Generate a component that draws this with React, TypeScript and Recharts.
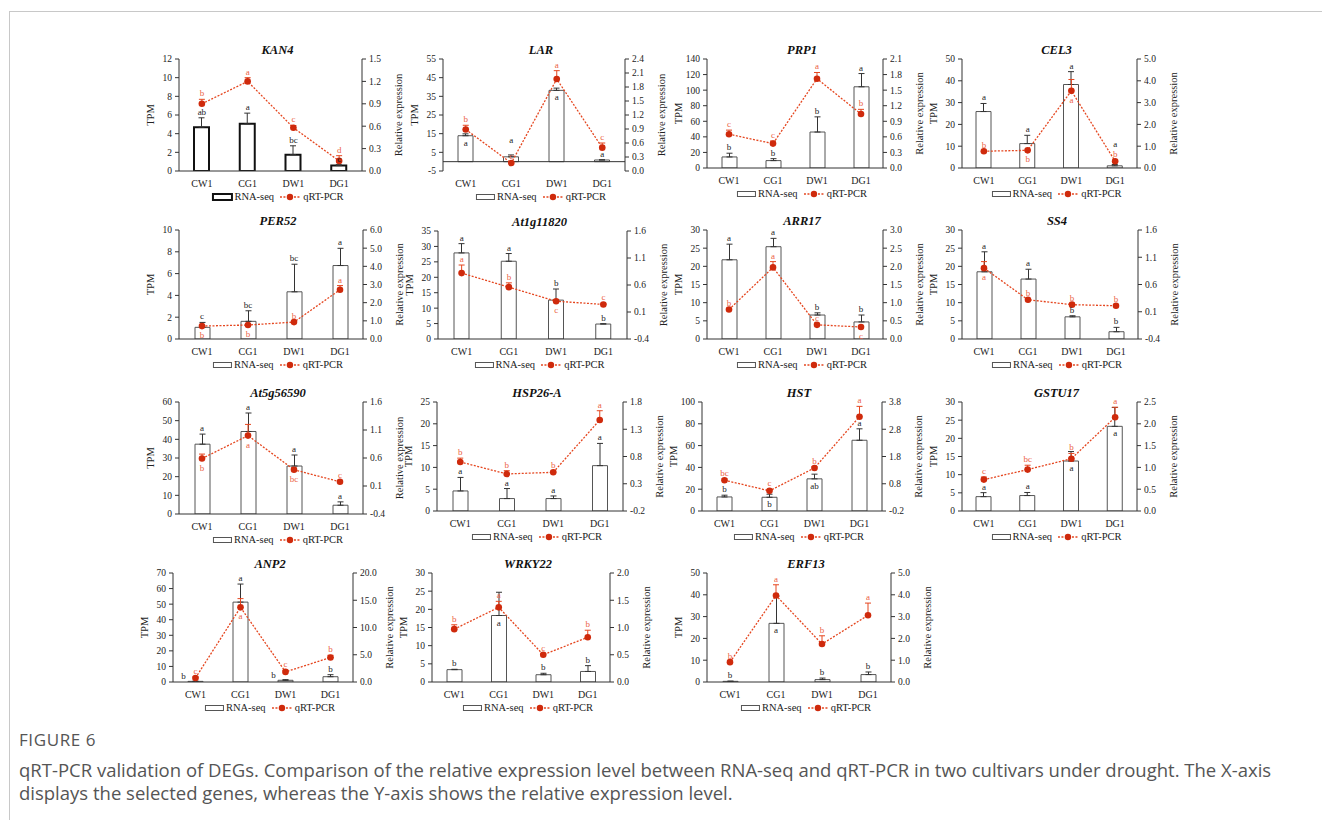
import React from "react";
import {
  ComposedChart,
  Bar,
  Line,
  XAxis,
  YAxis,
  ErrorBar,
  LabelList,
  ReferenceLine,
} from "recharts";

// ---- data ----
const stages = ["CW1", "CG1", "DW1", "DG1"];

const genes = [
  "KAN4", "LAR", "PRP1", "CEL3",
  "PER52", "At1g11820", "ARR17", "SS4",
  "At5g56590", "HSP26-A", "HST", "GSTU17",
  "ANP2", "WRKY22", "ERF13",
];

// RNA-seq (TPM, left axis)
const tpm = [
  [4.7, 5.05, 1.75, 0.58],
  [13.9, 2.6, 38.2, 0.9],
  [14.2, 9.5, 46.2, 104.3],
  [25.9, 11.2, 38.3, 1.0],
  [1.07, 1.62, 4.33, 6.74],
  [27.9, 25.2, 12.6, 4.85],
  [21.8, 25.4, 6.6, 4.7],
  [18.5, 16.5, 6.1, 2.0],
  [37.4, 44.2, 25.7, 4.7],
  [4.6, 2.85, 2.85, 10.4],
  [12.9, 12.6, 29.5, 64.9],
  [3.95, 4.25, 13.76, 23.3],
  [0.4, 51.3, 1.1, 3.4],
  [3.4, 18.3, 2.0, 2.9],
  [0.3, 26.9, 1.1, 3.4],
];
const tpmErr = [
  [1.0, 1.15, 0.95, 0.1],
  [1.0, 1.0, 1.2, 0.1],
  [4.8, 2.5, 19.5, 17.0],
  [3.7, 3.8, 5.9, 0.6],
  [0.45, 0.97, 2.53, 1.58],
  [3.0, 2.5, 3.6, 0.1],
  [4.3, 2.3, 0.6, 1.9],
  [5.5, 2.7, 0.3, 1.2],
  [5.4, 9.9, 5.9, 1.8],
  [3.1, 2.3, 0.6, 5.1],
  [1.6, 2.8, 4.3, 10.5],
  [1.1, 0.85, 2.6, 5.2],
  [0.05, 11.6, 0.4, 1.3],
  [0.1, 6.4, 0.4, 1.6],
  [0.1, 12.5, 0.7, 1.2],
];
const tpmSig = [
  ["ab", "a", "bc", "c"],
  ["a", "a", "a", "a"],
  ["b", "b", "b", "a"],
  ["a", "a", "a", "a"],
  ["c", "bc", "bc", "a"],
  ["a", "a", "b", "b"],
  ["a", "a", "b", "b"],
  ["a", "a", "b", "b"],
  ["a", "a", "a", "a"],
  ["a", "a", "a", "a"],
  ["b", "b", "ab", "a"],
  ["a", "a", "a", "a"],
  ["b", "a", "b", "b"],
  ["b", "a", "b", "b"],
  ["b", "a", "b", "b"],
];

// qRT-PCR (relative expression, right axis)
const rel = [
  [0.9, 1.2, 0.58, 0.135],
  [0.89, 0.17, 1.97, 0.5],
  [0.65, 0.47, 1.72, 1.04],
  [0.77, 0.81, 3.54, 0.31],
  [0.71, 0.77, 0.93, 2.71],
  [0.82, 0.56, 0.3, 0.24],
  [0.81, 1.97, 0.39, 0.33],
  [0.9, 0.32, 0.23, 0.21],
  [0.59, 1.0, 0.39, 0.175],
  [0.7, 0.48, 0.51, 1.47],
  [0.93, 0.54, 1.38, 3.26],
  [0.72, 0.95, 1.2, 2.15],
  [0.74, 13.7, 1.85, 4.5],
  [0.97, 1.37, 0.5, 0.82],
  [0.91, 3.97, 1.74, 3.06],
];
const relErr = [
  [0.06, 0.05, 0.03, 0.07],
  [0.09, 0.03, 0.18, 0.1],
  [0.08, 0.05, 0.12, 0.09],
  [0.01, 0.02, 0.52, 0.05],
  [0.02, 0.02, 0.03, 0.23],
  [0.15, 0.08, 0.03, 0.02],
  [0.01, 0.16, 0.02, 0.02],
  [0.12, 0.02, 0.02, 0.02],
  [0.08, 0.2, 0.03, 0.02],
  [0.07, 0.06, 0.02, 0.17],
  [0.05, 0.05, 0.05, 0.38],
  [0.06, 0.1, 0.12, 0.23],
  [0.2, 1.6, 0.3, 0.4],
  [0.08, 0.11, 0.02, 0.13],
  [0.02, 0.49, 0.38, 0.56],
];
const relSig = [
  ["b", "a", "c", "d"],
  ["b", "c", "a", "c"],
  ["c", "c", "a", "b"],
  ["b", "b", "a", "b"],
  ["b", "b", "b", "a"],
  ["a", "b", "c", "c"],
  ["b", "a", "c", "c"],
  ["a", "b", "b", "b"],
  ["b", "a", "bc", "c"],
  ["b", "b", "b", "a"],
  ["bc", "c", "b", "a"],
  ["c", "bc", "b", "a"],
  ["c", "a", "c", "b"],
  ["b", "a", "c", "b"],
  ["b", "a", "b", "a"],
];

const tpmTicks = [
  [0, 2, 4, 6, 8, 10, 12],
  [-5, 5, 15, 25, 35, 45, 55],
  [0, 20, 40, 60, 80, 100, 120, 140],
  [0, 10, 20, 30, 40, 50],
  [0, 2, 4, 6, 8, 10],
  [0, 5, 10, 15, 20, 25, 30, 35],
  [0, 5, 10, 15, 20, 25, 30],
  [0, 5, 10, 15, 20, 25, 30],
  [0, 10, 20, 30, 40, 50, 60],
  [0, 5, 10, 15, 20, 25],
  [0, 20, 40, 60, 80, 100],
  [0, 5, 10, 15, 20, 25, 30],
  [0, 10, 20, 30, 40, 50, 60, 70],
  [0, 5, 10, 15, 20, 25, 30],
  [0, 10, 20, 30, 40, 50],
];
const relTicks = [
  [0, 0.3, 0.6, 0.9, 1.2, 1.5],
  [0, 0.3, 0.6, 0.9, 1.2, 1.5, 1.8, 2.1, 2.4],
  [0, 0.3, 0.6, 0.9, 1.2, 1.5, 1.8, 2.1],
  [0, 1, 2, 3, 4, 5],
  [0, 1, 2, 3, 4, 5, 6],
  [-0.4, 0.1, 0.6, 1.1, 1.6],
  [0, 0.5, 1, 1.5, 2, 2.5, 3],
  [-0.4, 0.1, 0.6, 1.1, 1.6],
  [-0.4, 0.1, 0.6, 1.1, 1.6],
  [-0.2, 0.3, 0.8, 1.3, 1.8],
  [-0.2, 0.8, 1.8, 2.8, 3.8],
  [0, 0.5, 1, 1.5, 2, 2.5],
  [0, 5, 10, 15, 20],
  [0, 0.5, 1, 1.5, 2],
  [0, 1, 2, 3, 4, 5],
];

// ---- layout: plot box [left, top, width, height] per panel ----
const panelBox = [
  [179, 59, 183, 112],
  [443, 59, 182, 112],
  [707, 59, 176, 109],
  [962, 59, 175, 109],
  [179, 230, 184, 109],
  [438, 231, 189, 108],
  [707, 230, 176, 109],
  [962, 230, 176, 109],
  [179, 402, 184, 112],
  [437, 402, 186, 109],
  [702, 402, 180, 109],
  [962, 402, 175, 109],
  [173, 573, 180, 109],
  [432, 573, 178, 109],
  [707, 573, 184, 109],
];
// letter placement: u = above error bar, h / H = higher (clear of a red letter),
// d = below the value, l = left of bar
const tpmPlace = [
  "uuuu", "dhdu", "uuuu", "uuuH",
  "uuuu", "uuuu", "uuuu", "uuuu",
  "uuuu", "uuuu", "uddu", "uudd",
  "lulu", "uduu", "uduu",
];
const relPlace = [
  "uuuu", "uuuu", "uuuu", "uddu",
  "dduu", "uudu", "uuud", "duuu",
  "dddu", "uuuu", "uuuu", "uuuu",
  "uduu", "uuuu", "uuuu",
];
const boldBars = ["KAN4"];

const serif = '"Liberation Serif", "Times New Roman", serif';
const sans = '"Open Sans", sans-serif';
const INK = "#222";
const RED = "#e5461f";
const RED_TEXT = "#ec6244";
const DOT = "#cf2a0c";

const LEFT_W = 58;
const RIGHT_W = 72;
const TOP_M = 10;
const X_H = 22;

const fmtRel = (v: number) => v.toFixed(1);

const sigContent = (color: string, bar: boolean) => (props: any) => {
  const { x, y, value } = props;
  if (x == null || y == null || value == null) return null;
  const [place, letter] = String(value).split("|");
  let tx = x;
  let ty = y - 3;
  if (place === "h") ty = y - 12;
  if (place === "H") ty = y - 18;
  if (place === "d") ty = y + (bar ? 10 : 12);
  if (place === "l") {
    tx = x - 12;
    ty = y - 2;
  }
  return (
    <text x={tx} y={ty} textAnchor="middle" fontSize={9} fill={color} fontFamily={serif}>
      {letter}
    </text>
  );
};

function SeriesKey({ cx, cy, bold }: { cx: number; cy: number; bold: boolean }) {
  return (
    <div
      style={{
        position: "absolute",
        left: cx,
        top: cy,
        transform: "translate(-50%, -50%)",
        display: "flex",
        alignItems: "center",
        fontFamily: serif,
        fontSize: 10.5,
        color: INK,
        whiteSpace: "nowrap",
        lineHeight: "12px",
      }}
    >
      <span
        style={{
          display: "inline-block",
          width: 17,
          height: 4,
          border: bold ? "2px solid #111" : "1px solid #555",
          marginRight: 2,
        }}
      />
      <span>RNA-seq</span>
      <svg width={20} height={8} style={{ marginLeft: 6, marginRight: 3 }}>
        <line x1={0} y1={4} x2={20} y2={4} stroke={RED} strokeWidth={1.3} strokeDasharray="2 1.5" />
        <circle cx={10} cy={4} r={3.2} fill={DOT} />
      </svg>
      <span>qRT-PCR</span>
    </div>
  );
}

function GenePanel({ i }: { i: number }) {
  const [left, top, w, h] = panelBox[i];
  const bold = boldBars.includes(genes[i]);
  const yT = tpmTicks[i];
  const yR = relTicks[i];
  const negBase = yT[0] < 0;

  const data = stages.map((stage, k) => ({
    stage,
    tpm: tpm[i][k],
    tpmErr: [0, tpmErr[i][k]],
    rel: rel[i][k],
    relErr: [0, relErr[i][k]],
    tpmMark: tpmPlace[i][k] === "d" ? tpm[i][k] : tpm[i][k] + tpmErr[i][k],
    tpmTag: tpmPlace[i][k] + "|" + tpmSig[i][k],
    relMark: relPlace[i][k] === "d" ? rel[i][k] : rel[i][k] + relErr[i][k],
    relTag: relPlace[i][k] + "|" + relSig[i][k],
  }));

  const cx = left + w / 2 + 7;
  const tick = { fontSize: 9.5, fill: INK, fontFamily: serif };

  return (
    <>
      <div
        style={{
          position: "absolute",
          left: cx,
          top: top - 9,
          transform: "translate(-50%, -50%)",
          fontFamily: serif,
          fontWeight: "bold",
          fontStyle: "italic",
          fontSize: 12.5,
          color: "#111",
          whiteSpace: "nowrap",
        }}
      >
        {genes[i]}
      </div>
      <div style={{ position: "absolute", left: left - LEFT_W, top: top - TOP_M }}>
        <ComposedChart
          width={w + LEFT_W + RIGHT_W}
          height={h + TOP_M + X_H}
          data={data}
          margin={{ top: TOP_M, right: 0, bottom: 0, left: 0 }}
          style={{ fontFamily: serif }}
        >
          <XAxis
            dataKey="stage"
            tickLine={false}
            axisLine={negBase ? false : { stroke: "#333" }}
            tick={{ ...tick, fontSize: 10 }}
            tickMargin={3}
            height={X_H}
            interval={0}
          />
          <YAxis
            yAxisId="l"
            width={LEFT_W}
            domain={[yT[0], yT[yT.length - 1]]}
            ticks={yT}
            interval={0}
            allowDataOverflow
            tick={tick}
            tickSize={4}
            tickMargin={3}
            stroke="#333"
            label={{ value: "TPM", angle: -90, position: "center", fontSize: 10.5, fill: INK, fontFamily: serif }}
          />
          <YAxis
            yAxisId="r"
            orientation="right"
            width={RIGHT_W}
            domain={[yR[0], yR[yR.length - 1]]}
            ticks={yR}
            interval={0}
            allowDataOverflow
            tick={tick}
            tickFormatter={fmtRel}
            tickSize={4}
            tickMargin={3}
            stroke="#333"
            label={{
              value: "Relative expression",
              angle: -90,
              position: "center",
              fontSize: 10.5,
              fill: INK,
              fontFamily: serif,
            }}
          />
          <Bar
            yAxisId="l"
            dataKey="tpm"
            barSize={15}
            fill="#fff"
            stroke={bold ? "#111" : "#555"}
            strokeWidth={bold ? 2 : 1}
            isAnimationActive={false}
          >
            <ErrorBar dataKey="tpmErr" direction="y" width={3} stroke="#333" strokeWidth={1} />
          </Bar>
          {negBase && <ReferenceLine yAxisId="l" y={0} stroke="#333" strokeWidth={1} />}
          <Line
            yAxisId="l"
            dataKey="tpmMark"
            stroke="none"
            dot={false}
            activeDot={false}
            legendType="none"
            isAnimationActive={false}
          >
            <LabelList dataKey="tpmTag" content={sigContent(INK, true)} />
          </Line>
          <Line
            yAxisId="r"
            dataKey="rel"
            stroke={RED}
            strokeWidth={1.3}
            strokeDasharray="2 1.5"
            dot={{ r: 3.3, fill: DOT, stroke: "none" }}
            activeDot={false}
            isAnimationActive={false}
          >
            <ErrorBar dataKey="relErr" direction="y" width={3} stroke={RED} strokeWidth={1} />
          </Line>
          <Line
            yAxisId="r"
            dataKey="relMark"
            stroke="none"
            dot={false}
            activeDot={false}
            legendType="none"
            isAnimationActive={false}
          >
            <LabelList dataKey="relTag" content={sigContent(RED_TEXT, false)} />
          </Line>
        </ComposedChart>
      </div>
      <SeriesKey cx={cx} cy={top + h + 25.5} bold={bold} />
    </>
  );
}

export default function App() {
  return (
    <div
      style={{
        position: "absolute",
        left: 0,
        top: 0,
        width: 1322,
        height: 820,
        background: "#fff",
        overflow: "hidden",
      }}
    >
      <div
        style={{
          position: "absolute",
          left: 9,
          top: 11,
          width: 1330,
          height: 820,
          borderTop: "1px solid #c8c8c8",
          borderLeft: "1px solid #c8c8c8",
        }}
      />
      {genes.map((g, i) => (
        <GenePanel key={g} i={i} />
      ))}
      <div
        style={{
          position: "absolute",
          left: 19,
          top: 728,
          fontFamily: sans,
          fontSize: 17,
          lineHeight: "24px",
          color: "#555",
          letterSpacing: 0.6,
        }}
      >
        FIGURE 6
      </div>
      <div
        style={{
          position: "absolute",
          left: 19,
          top: 758,
          fontFamily: sans,
          fontSize: 18.5,
          lineHeight: "23px",
          color: "#555",
          whiteSpace: "nowrap",
        }}
      >
        <div>
          qRT-PCR validation of DEGs. Comparison of the relative expression level between RNA-seq and qRT-PCR in two
          cultivars under drought. The X-axis
        </div>
        <div>displays the selected genes, whereas the Y-axis shows the relative expression level.</div>
      </div>
    </div>
  );
}
